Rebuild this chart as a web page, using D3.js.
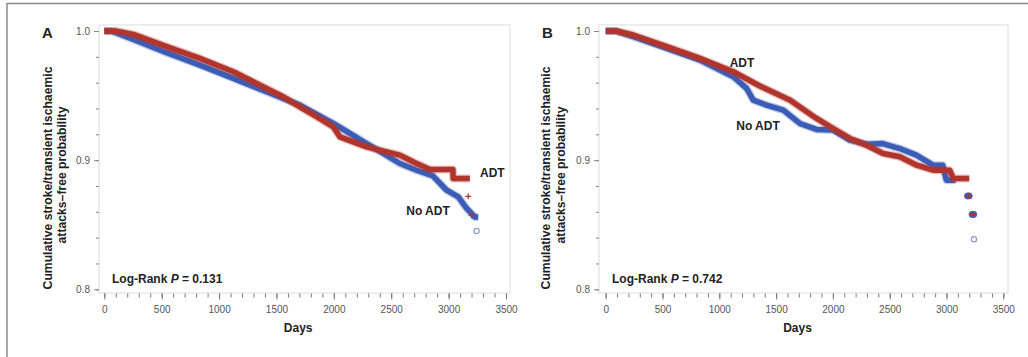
<!DOCTYPE html>
<html>
<head>
<meta charset="utf-8">
<script src="https://cdn.jsdelivr.net/npm/d3@7"></script>
<style>
  body { margin: 0; background: #fff; }
  svg { display: block; }
  .tick-lbl { font-family: "Liberation Sans Narrow", "Arial Narrow", "Liberation Sans", sans-serif; font-size: 10px; fill: #555; }
  .bold { font-family: "Liberation Sans", Arial, sans-serif; font-weight: bold; fill: #222; }
</style>
</head>
<body>
<div id="chart"></div>
<script>
// values (days, survival probability)
const daysA_adt   = [0, 100, 253, 543, 833, 1124, 1356, 1559, 1704, 1850, 1995, 2053, 2285, 2575, 2721, 2837, 3037, 3040, 3185];
const survA_adt   = [1.0, 1.0, 0.9974, 0.9879, 0.9788, 0.9685, 0.9581, 0.9491, 0.9413, 0.9336, 0.9258, 0.918, 0.9103, 0.9039, 0.8974, 0.8928, 0.8928, 0.8858, 0.8858];
const daysA_noadt = [0, 60, 253, 543, 833, 1124, 1414, 1704, 1995, 2140, 2285, 2430, 2575, 2721, 2863, 2983, 3084, 3157, 3229, 3258];
const survA_noadt = [1.0, 1.0, 0.9935, 0.9832, 0.9736, 0.9633, 0.953, 0.9426, 0.9284, 0.9207, 0.9129, 0.9052, 0.8974, 0.8922, 0.8878, 0.8767, 0.8715, 0.8626, 0.856, 0.856];

const daysB_adt   = [0, 90, 243, 537, 830, 1123, 1357, 1621, 1856, 2002, 2149, 2295, 2442, 2589, 2738, 2882, 3029, 3060, 3200];
const survB_adt   = [1.0, 1.0, 0.9969, 0.9879, 0.9788, 0.9685, 0.9574, 0.9465, 0.9323, 0.9245, 0.9168, 0.9116, 0.9052, 0.9026, 0.8961, 0.8922, 0.8922, 0.8858, 0.8858];
const daysB_noadt = [0, 90, 243, 537, 830, 1123, 1240, 1299, 1416, 1563, 1709, 1856, 2002, 2149, 2300, 2439, 2589, 2735, 2882, 2967, 2999, 3080];
const survB_noadt = [1.0, 1.0, 0.9956, 0.9866, 0.9775, 0.9646, 0.9556, 0.9465, 0.9426, 0.9388, 0.9284, 0.9238, 0.9233, 0.9155, 0.9124, 0.9128, 0.909, 0.9039, 0.8961, 0.8961, 0.8845, 0.8845];

// tail events / censor marks
const tailA_noadt = [[3244, 0.8452]];
const plusA_adt   = [[3171, 0.872], [3200, 0.8574]];
const tailB_noadt = [[3185, 0.8723], [3200, 0.8723], [3225, 0.858], [3240, 0.858]];
const openB_noadt = [[3242, 0.8388]];
const plusB_adt   = [[3195, 0.8723], [3233, 0.858]];

const xTicks = [0, 500, 1000, 1500, 2000, 2500, 3000, 3500];
const yTicks = [0.8, 0.9, 1.0];
const pValues = ['0.131', '0.742'];
const panelLetters = ['A', 'B'];

const RED = '#b1352c';
const BLUE = '#3c5db6';

const width = 1028, height = 357;

const svg = d3.select('#chart').append('svg')
  .attr('width', width)
  .attr('height', height);

// outer frame
svg.append('line').attr('x1', 7).attr('x2', width).attr('y1', 3.5).attr('y2', 3.5)
  .attr('stroke', '#8a8a8a').attr('stroke-width', 1.5);
svg.append('line').attr('x1', 7).attr('x2', 7).attr('y1', 3).attr('y2', height)
  .attr('stroke', '#8a8a8a').attr('stroke-width', 1.5);

const panels = [
  { letter: panelLetters[0], p: pValues[0], frameL: 99, frameR: 510, x0: 104.3, x1: 506, ylab: [48, 62],
    adt: [daysA_adt, survA_adt], noadt: [daysA_noadt, survA_noadt],
    adtLbl: [480, 177, 'start'], noLbl: [428, 215, 'middle'] },
  { letter: panelLetters[1], p: pValues[1], frameL: 599, frameR: 1008, x0: 605.7, x1: 1003.3, ylab: [546, 561],
    adt: [daysB_adt, survB_adt], noadt: [daysB_noadt, survB_noadt],
    adtLbl: [742, 67, 'middle'], noLbl: [758, 130, 'middle'] }
];

const frameT = 25, frameB = 293;

panels.forEach((pn, i) => {
  const x = d3.scaleLinear().domain([0, 3500]).range([pn.x0, pn.x1]);
  const y = d3.scaleLinear().domain([0.8, 1.0]).range([289.3, 31]);
  const g = svg.append('g');

  g.append('rect')
    .attr('x', pn.frameL).attr('y', frameT)
    .attr('width', pn.frameR - pn.frameL).attr('height', frameB - frameT)
    .attr('fill', 'none').attr('stroke', '#dcdcdc').attr('stroke-width', 1);

  // x axis: minor ticks every 100 days
  const xAxis = g.append('g').attr('transform', `translate(0,${frameB + 0.5})`)
    .call(d3.axisBottom(x).tickValues(d3.range(0, 3501, 100)).tickSize(4).tickFormat(''));
  xAxis.select('.domain').remove();
  xAxis.selectAll('line').attr('stroke', '#777');
  const xMaj = g.append('g').attr('transform', `translate(0,${frameB + 0.5})`)
    .call(d3.axisBottom(x).tickValues(xTicks).tickSize(6).tickPadding(6).tickFormat(d3.format('d')));
  xMaj.select('.domain').remove();
  xMaj.selectAll('line').attr('stroke', '#777');
  xMaj.selectAll('text').attr('class', 'tick-lbl').attr('fill', null);

  // y axis: minor ticks every 0.02
  const yAxis = g.append('g').attr('transform', `translate(${pn.frameL},0)`)
    .call(d3.axisLeft(y).tickValues(d3.range(0.8, 1.0001, 0.02)).tickSize(3).tickFormat(''));
  yAxis.select('.domain').remove();
  yAxis.selectAll('line').attr('stroke', '#888');
  const yMaj = g.append('g').attr('transform', `translate(${pn.frameL},0)`)
    .call(d3.axisLeft(y).tickValues(yTicks).tickSize(5).tickPadding(4).tickFormat(d3.format('.1f')));
  yMaj.select('.domain').remove();
  yMaj.selectAll('line').attr('stroke', '#888');
  yMaj.selectAll('text').attr('class', 'tick-lbl').attr('fill', null);

  const line = d3.line().x(d => x(d[0])).y(d => y(d[1]));
  const pts = s => s[0].map((d, k) => [d, s[1][k]]);

  const band = (data, color) => {
    g.append('path').datum(data).attr('d', line)
      .attr('fill', 'none').attr('stroke', color).attr('stroke-opacity', 0.3)
      .attr('stroke-width', 8).attr('stroke-linejoin', 'round');
    g.append('path').datum(data).attr('d', line)
      .attr('fill', 'none').attr('stroke', color)
      .attr('stroke-width', 5.5).attr('stroke-linejoin', 'round');
  };

  band(pts(pn.noadt), BLUE);
  band(pts(pn.adt), RED);

  const dots = (data, color, open) => {
    g.selectAll(null).data(data).enter().append('circle')
      .attr('cx', d => x(d[0])).attr('cy', d => y(d[1])).attr('r', open ? 2.6 : 3)
      .attr('fill', open ? 'none' : color).attr('stroke', color)
      .attr('stroke-width', open ? 1.2 : 1).attr('stroke-opacity', open ? 0.6 : 1);
  };
  const plus = (data, color) => {
    g.selectAll(null).data(data).enter().append('path')
      .attr('d', d => `M${x(d[0]) - 3},${y(d[1])}h6M${x(d[0])},${y(d[1]) - 3}v6`)
      .attr('stroke', color).attr('stroke-width', 1.2).attr('fill', 'none');
  };

  if (i === 0) {
    dots(tailA_noadt, BLUE, true);
    plus(plusA_adt, RED);
  } else {
    dots(tailB_noadt, BLUE, false);
    dots(openB_noadt, BLUE, true);
    plus(plusB_adt, RED);
  }

  // texts
  g.append('text').attr('class', 'bold').attr('x', pn.frameL - 57).attr('y', 38)
    .attr('font-size', 15).text(pn.letter);

  const cy = 178;
  g.append('text').attr('class', 'bold').attr('font-size', 12.2)
    .attr('text-anchor', 'middle')
    .attr('transform', `translate(${pn.ylab[0] + 4},${cy}) rotate(-90)`)
    .text('Cumulative stroke/transient ischaemic');
  g.append('text').attr('class', 'bold').attr('font-size', 12.2)
    .attr('text-anchor', 'middle')
    .attr('transform', `translate(${pn.ylab[1] + 4},${cy - 3}) rotate(-90)`)
    .text('attacks–free probability');

  g.append('text').attr('class', 'bold').attr('font-size', 12)
    .attr('text-anchor', 'middle')
    .attr('x', (pn.x0 + pn.x1) / 2 - 7).attr('y', 332)
    .text('Days');

  const lr = g.append('text').attr('class', 'bold').attr('font-size', 12)
    .attr('x', pn.frameL + 13).attr('y', 283);
  lr.append('tspan').text('Log-Rank ');
  lr.append('tspan').attr('font-style', 'italic').text('P');
  lr.append('tspan').text(' = ' + pn.p);

  g.append('text').attr('class', 'bold').attr('font-size', 12)
    .attr('text-anchor', pn.adtLbl[2])
    .attr('x', pn.adtLbl[0]).attr('y', pn.adtLbl[1]).text('ADT');
  g.append('text').attr('class', 'bold').attr('font-size', 12)
    .attr('text-anchor', pn.noLbl[2])
    .attr('x', pn.noLbl[0]).attr('y', pn.noLbl[1]).text('No ADT');
});
</script>
</body>
</html>
